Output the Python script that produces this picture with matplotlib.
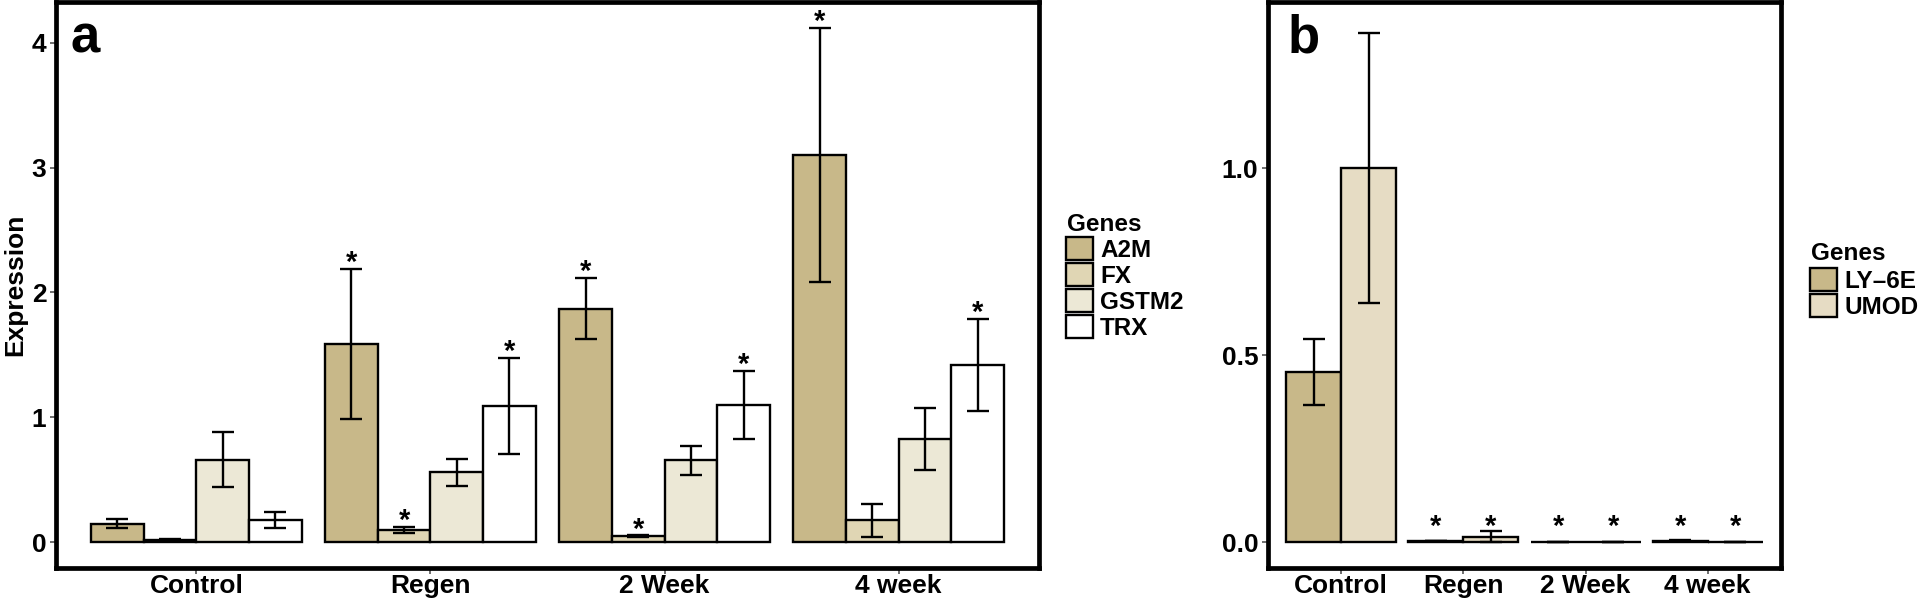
import numpy as np
import matplotlib
matplotlib.use('Agg')
import matplotlib.pyplot as plt
from matplotlib.patches import Patch

plt.rcParams['font.family'] = ['Liberation Sans', 'DejaVu Sans']
plt.rcParams['font.weight'] = 'bold'

groups = ['Control', 'Regen', '2 Week', '4 week']

genes_a = ['A2M', 'FX', 'GSTM2', 'TRX']
mean_a = {
    'A2M':   [0.15, 1.59, 1.87, 3.10],
    'FX':    [0.02, 0.10, 0.05, 0.175],
    'GSTM2': [0.66, 0.56, 0.655, 0.825],
    'TRX':   [0.18, 1.09, 1.10, 1.42],
}
err_a = {
    'A2M':   [0.035, 0.60, 0.245, 1.015],
    'FX':    [0.005, 0.025, 0.005, 0.13],
    'GSTM2': [0.22, 0.11, 0.115, 0.25],
    'TRX':   [0.065, 0.385, 0.27, 0.37],
}
star_a = {
    'A2M':   [False, True, True, True],
    'FX':    [False, True, True, False],
    'GSTM2': [False, False, False, False],
    'TRX':   [False, True, True, True],
}

genes_b = ['LY–6E', 'UMOD']
mean_b = {
    'LY–6E': [0.455, 0.003, 0.001, 0.004],
    'UMOD':  [1.0, 0.015, 0.001, 0.001],
}
err_b = {
    'LY–6E': [0.088, 0.001, 0.0005, 0.001],
    'UMOD':  [0.36, 0.014, 0.0005, 0.0005],
}
star_b = {
    'LY–6E': [False, True, True, True],
    'UMOD':  [False, True, True, True],
}

colors_a = {'A2M': '#c8b889', 'FX': '#e0d6b4', 'GSTM2': '#ece8d6', 'TRX': '#ffffff'}
colors_b = {'LY–6E': '#c8b889', 'UMOD': '#e6dcc4'}

FS = 19

fig = plt.figure(figsize=(19.26, 6.02), dpi=100)
ax_a = fig.add_axes([56 / 1926, 1 - 568 / 602, 983 / 1926, 566 / 602])
ax_b = fig.add_axes([1268 / 1926, 1 - 568 / 602, 513 / 1926, 566 / 602])


def draw_panel(ax, genes, means, errs, stars, colors, star_fixed=False):
    x = np.arange(1, len(groups) + 1)
    n = len(genes)
    w = 0.9 / n
    for i, g in enumerate(genes):
        xs = x - 0.45 + w * (i + 0.5)
        m = np.array(means[g])
        e = np.array(errs[g])
        ax.bar(xs, m, width=w, color=colors[g], edgecolor='black', linewidth=1.7, zorder=2)
        ax.errorbar(xs, m, yerr=e, fmt='none', ecolor='black', elinewidth=1.7,
                    capsize=8, capthick=1.7, zorder=3)
        for j in range(len(groups)):
            if stars[g][j]:
                if star_fixed:
                    ax.annotate('*', xy=(xs[j], 0), xytext=(0, 5.5),
                                textcoords='offset points', ha='center', va='baseline',
                                fontsize=21, fontweight='bold', zorder=4, annotation_clip=False)
                else:
                    ax.annotate('*', xy=(xs[j], m[j] + e[j]), xytext=(0, -1.5),
                                textcoords='offset points', ha='center', va='baseline',
                                fontsize=21, fontweight='bold', zorder=4, annotation_clip=False)
    ax.set_xlim(0.4, len(groups) + 0.6)
    ax.set_xticks(x)
    ax.set_xticklabels(groups)
    for s in ax.spines.values():
        s.set_linewidth(3.4)
    ax.tick_params(axis='both', labelsize=FS, length=4, width=1.2, color='#555555')
    ax.tick_params(axis='x', pad=0.5)
    ax.tick_params(axis='y', pad=3)
    for lab in ax.get_xticklabels() + ax.get_yticklabels():
        lab.set_fontweight('bold')


draw_panel(ax_a, genes_a, mean_a, err_a, star_a, colors_a)
ax_a.set_ylim(-0.206, 4.326)
ax_a.set_yticks([0, 1, 2, 3, 4])
for lab in ax_a.get_yticklabels():
    lab.set_fontweight('bold')
ax_a.set_ylabel('Expression', fontsize=19, fontweight='bold', labelpad=3)
ax_a.text(0.015, 0.91, 'a', transform=ax_a.transAxes, fontsize=38, fontweight='bold',
          va='baseline', ha='left')

draw_panel(ax_b, genes_b, mean_b, err_b, star_b, colors_b, star_fixed=True)
ax_b.set_ylim(-0.069, 1.444)
ax_b.set_yticks([0.0, 0.5, 1.0])
ax_b.set_yticklabels(['0.0', '0.5', '1.0'])
for lab in ax_b.get_yticklabels():
    lab.set_fontweight('bold')
ax_b.text(0.039, 0.91, 'b', transform=ax_b.transAxes, fontsize=38, fontweight='bold',
          va='baseline', ha='left')

# legends: title drawn separately so the gap to the keys can be set
leg_kw = dict(frameon=False, fontsize=17.5, handlelength=1.12,
              handleheight=1.08, labelspacing=0.05, handletextpad=0.28,
              borderaxespad=0, borderpad=0, loc='upper left')
h_a = [Patch(facecolor=colors_a[g], edgecolor='black', linewidth=1.7, label=g) for g in genes_a]
la = fig.legend(handles=h_a, bbox_to_anchor=(1066 / 1926, 1 - 237 / 602), **leg_kw)
fig.text(1067 / 1926, 1 - 231 / 602, 'Genes', fontsize=17.5, fontweight='bold', va='baseline')
h_b = [Patch(facecolor=colors_b[g], edgecolor='black', linewidth=1.7, label=g) for g in genes_b]
lb = fig.legend(handles=h_b, bbox_to_anchor=(1810 / 1926, 1 - 268 / 602), **leg_kw)
fig.text(1811 / 1926, 1 - 260 / 602, 'Genes', fontsize=17.5, fontweight='bold', va='baseline')
for t in la.get_texts() + lb.get_texts():
    t.set_fontweight('bold')

fig.savefig('out.png', dpi=100)
